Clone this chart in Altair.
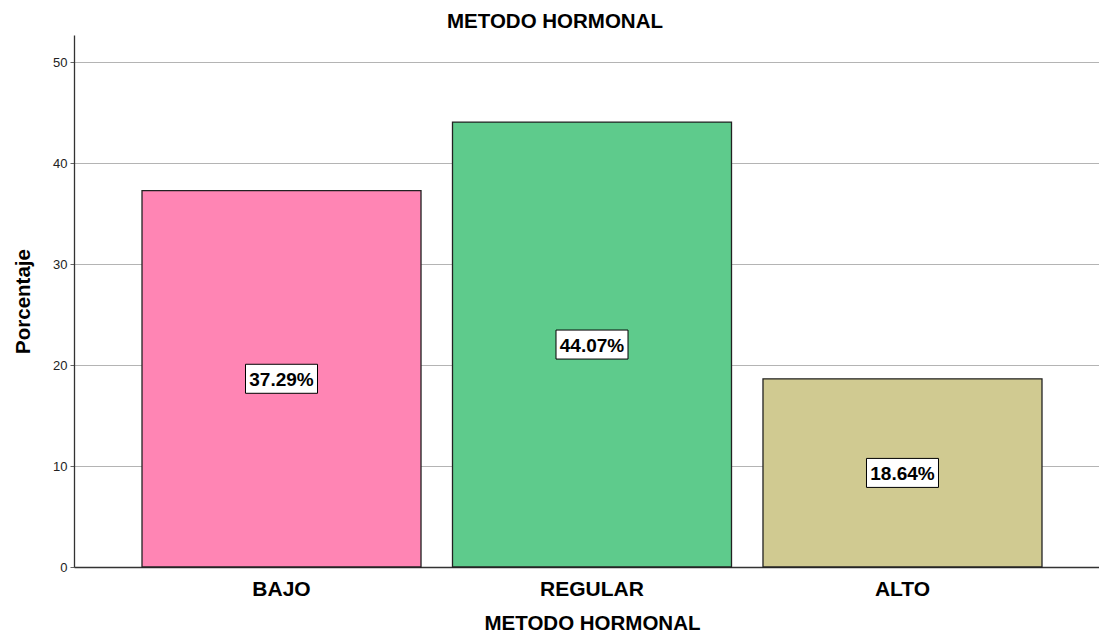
import altair as alt
import pandas as pd

categories = ["BAJO", "REGULAR", "ALTO"]
values = [37.29, 44.07, 18.64]
colors = ["#ff85b4", "#5ecb8c", "#d0ca91"]
label_texts = ["37.29%", "44.07%", "18.64%"]

df = pd.DataFrame({"cat": categories, "val": values, "lbl": label_texts})
df["mid"] = df["val"] / 2

FONT = "Liberation Sans"
W, H = 1025, 532

x = alt.X("cat:N", sort=categories,
          scale=alt.Scale(paddingInner=0.1014, paddingOuter=0.2013, align=0.544),
          axis=alt.Axis(title="METODO HORMONAL", labelAngle=0, labelFontSize=21,
                        labelFontWeight="bold", labelFont=FONT, labelColor="#000",
                        labelBaseline="top", labelPadding=11,
                        titleFontSize=20.5, titleFontWeight="bold", titleFont=FONT,
                        titleColor="#000", titleBaseline="alphabetic",
                        titleX=518, titleY=62, titleAlign="center",
                        ticks=False, domainColor="#333", domainWidth=1.3))
y_scale = alt.Scale(domain=[0, 52.7], nice=False)

bars = alt.Chart(df).mark_bar(stroke="#222", strokeWidth=1.3).encode(
    x=x,
    y=alt.Y("val:Q", scale=y_scale,
            axis=alt.Axis(title="Porcentaje", values=[0, 10, 20, 30, 40, 50],
                          labelFontSize=13, labelFont=FONT, labelColor="#222",
                          titleFontSize=20.5, titleFontWeight="bold", titleFont=FONT,
                          titleColor="#000", titleAngle=270, titleBaseline="alphabetic",
                          titleAlign="center", titleX=-45, titleY=H / 2,
                          tickSize=4, tickColor="#666",
                          domainColor="#333", domainWidth=1.3, gridColor="#b4b4b4",
                          gridWidth=1.2, labelPadding=3)),
    color=alt.Color("cat:N", scale=alt.Scale(domain=categories, range=colors), legend=None),
)

boxes = alt.Chart(df).mark_point(
    shape="M-1,-0.4028L1,-0.4028L1,0.4028L-1,0.4028Z",
    size=5184, filled=True, fill="white", stroke="black", strokeWidth=1, opacity=1,
).encode(x=alt.X("cat:N", sort=categories), y=alt.Y("mid:Q", scale=y_scale))

texts = alt.Chart(df).mark_text(
    font=FONT, fontSize=19, fontWeight="bold", color="black", baseline="middle", dy=1
).encode(x=alt.X("cat:N", sort=categories), y=alt.Y("mid:Q", scale=y_scale), text="lbl:N")

chart = alt.layer(bars, boxes, texts).properties(
    width=W, height=H,
    title=alt.TitleParams("METODO HORMONAL", fontSize=20.5, fontWeight="bold", font=FONT,
                          color="#000", anchor="middle", dx=-31.5, offset=3),
    autosize=alt.AutoSizeParams(type="none"),
    padding={"left": 66, "top": 27, "right": 0, "bottom": 67},
).configure_view(stroke=None)

chart.save("out.html", embed_options={"renderer": "svg", "actions": False})
